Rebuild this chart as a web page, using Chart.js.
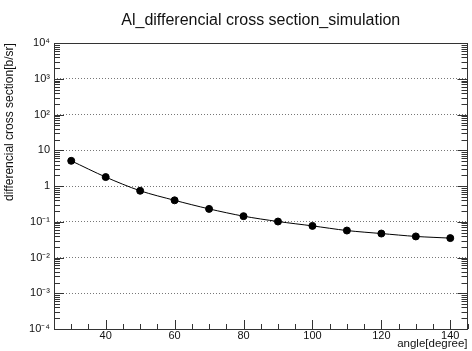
<!DOCTYPE html>
<html>
<head>
<meta charset="utf-8">
<script src="https://cdn.jsdelivr.net/npm/chart.js@4/dist/chart.umd.min.js"></script>
<style>
  html, body { margin: 0; padding: 0; background: #fff; }
  #wrap { width: 472px; height: 351px; }
</style>
</head>
<body>
<div id="wrap"><canvas id="myChart"></canvas></div>
<script>
// data
var angles = [30, 40, 50, 60, 70, 80, 90, 100, 110, 120, 130, 140];
var crossSection = [5.1, 1.79, 0.74, 0.40, 0.23, 0.144, 0.102, 0.077, 0.057, 0.047, 0.039, 0.035];

var yTickValues = [1e-4, 1e-3, 1e-2, 1e-1, 1, 10, 1e2, 1e3, 1e4];
var yTickLabels = ['10\u207B\u2074', '10\u207B\u00B3', '10\u207B\u00B2', '10\u207B\u00B9', '1', '10', '10\u00B2', '10\u00B3', '10\u2074'];
var xTickLabels = [40, 60, 80, 100, 120, 140];

var fontFamily = '"Liberation Sans", Arial, Helvetica, sans-serif';

// frame + inward ticks like the original
var frameTicks = {
    id: 'frameTicks',
    beforeDatasetsDraw: function (chart) {
        var ctx = chart.ctx;
        var a = chart.chartArea;
        var xs = chart.scales.x, ys = chart.scales.y;
        ctx.save();
        ctx.strokeStyle = '#333';
        ctx.lineWidth = 1;
        ctx.beginPath();
        // y ticks, left and right side
        for (var d = -4; d <= 4; d++) {
            var py = Math.round(ys.getPixelForValue(Math.pow(10, d))) + 0.5;
            ctx.moveTo(a.left, py); ctx.lineTo(a.left + 10, py);
            ctx.moveTo(a.right, py); ctx.lineTo(a.right - 10, py);
            if (d == 4) continue;
            for (var m = 2; m <= 9; m++) {
                var pm = Math.round(ys.getPixelForValue(m * Math.pow(10, d))) + 0.5;
                ctx.moveTo(a.left, pm); ctx.lineTo(a.left + 6, pm);
                ctx.moveTo(a.right, pm); ctx.lineTo(a.right - 6, pm);
            }
        }
        // x ticks, bottom
        for (var v = 25; v <= 145; v += 5) {
            var px = Math.round(xs.getPixelForValue(v)) + 0.5;
            var len = (v % 20 == 0) ? 9 : 5;
            ctx.moveTo(px, a.bottom); ctx.lineTo(px, a.bottom - len);
        }
        ctx.stroke();
        ctx.strokeRect(Math.round(a.left) + 0.5, Math.round(a.top) + 0.5,
            Math.round(a.right - a.left) - 1, Math.round(a.bottom - a.top));
        ctx.restore();
    }
};

var ctx = document.getElementById('myChart');
var myChart = new Chart(ctx, {
    type: 'scatter',
    data: {
        datasets: [{
            label: 'Al',
            data: angles.map(function (a, i) { return { x: a, y: crossSection[i] }; }),
            showLine: true,
            tension: 0.3,
            borderColor: '#000',
            borderWidth: 1,
            pointBackgroundColor: '#000',
            pointBorderColor: '#000',
            pointRadius: 3.5,
            pointHoverRadius: 3.5
        }]
    },
    plugins: [frameTicks],
    options: {
        responsive: true,
        maintainAspectRatio: false,
        animation: false,
        layout: { padding: { left: 0, right: 1, top: 0, bottom: 0 } },
        plugins: {
            legend: { display: false },
            tooltip: { enabled: false },
            title: {
                display: true,
                fullSize: false,
                text: 'Al_differencial cross section_simulation',
                color: '#111',
                font: { family: fontFamily, size: 16, weight: 'normal' },
                padding: { top: 11, bottom: 13 }
            }
        },
        scales: {
            x: {
                type: 'linear',
                min: 25,
                max: 145,
                grid: { display: false, drawTicks: false },
                border: { display: false },
                ticks: {
                    stepSize: 5,
                    padding: 0,
                    autoSkip: false,
                    maxRotation: 0,
                    color: '#111',
                    font: { family: fontFamily, size: 11 },
                    callback: function (v) { return xTickLabels.indexOf(v) >= 0 ? String(v) : ''; }
                },
                title: {
                    display: true,
                    text: 'angle[degree]',
                    align: 'end',
                    color: '#111',
                    padding: 0,
                    font: { family: fontFamily, size: 11.5 }
                },
                afterFit: function (s) { s.height = 22; }
            },
            y: {
                type: 'logarithmic',
                min: 1e-4,
                max: 1e4,
                afterBuildTicks: function (s) {
                    s.ticks = yTickValues.map(function (v) { return { value: v }; });
                },
                grid: {
                    drawTicks: false,
                    color: '#777',
                    lineWidth: 1
                },
                border: { display: false, dash: [1, 2] },
                ticks: {
                    padding: 4,
                    color: '#111',
                    font: { family: fontFamily, size: 11 },
                    callback: function (v) {
                        var i = yTickValues.indexOf(v);
                        return i >= 0 ? yTickLabels[i] : '';
                    }
                },
                title: {
                    display: true,
                    text: 'differencial cross section[b/sr]',
                    align: 'end',
                    color: '#111',
                    padding: { top: 2 },
                    font: { family: fontFamily, size: 12 }
                },
                afterFit: function (s) { s.width = 54; }
            }
        }
    }
});
</script>
</body>
</html>
